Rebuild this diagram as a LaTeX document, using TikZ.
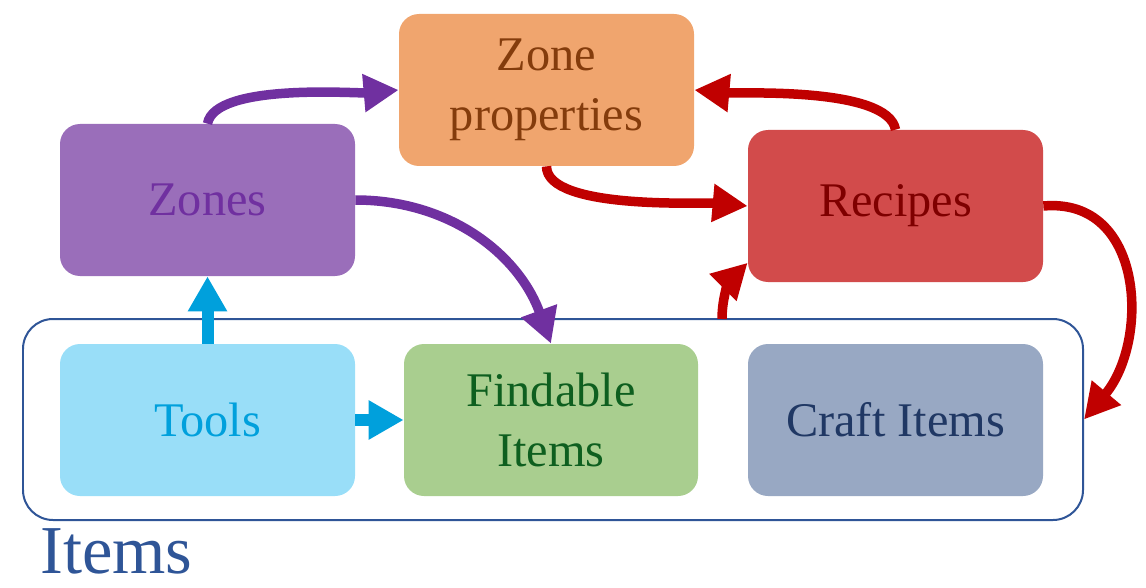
\documentclass[tikz,border=0pt]{standalone}
\usepackage{fontspec}
\setmainfont{Liberation Serif}
\usetikzlibrary{arrows.meta}

\definecolor{zpfill}{HTML}{F0A56E}
\definecolor{zptext}{HTML}{843C0C}
\definecolor{zofill}{HTML}{9A6EBA}
\definecolor{zotext}{HTML}{7030A0}
\definecolor{refill}{HTML}{D24B4B}
\definecolor{retext}{HTML}{7F0000}
\definecolor{tofill}{HTML}{99DEF8}
\definecolor{totext}{HTML}{00A0DC}
\definecolor{fifill}{HTML}{A9CE8F}
\definecolor{fitext}{HTML}{0E5F1F}
\definecolor{crfill}{HTML}{98A8C3}
\definecolor{crtext}{HTML}{203864}
\definecolor{itline}{HTML}{2F5597}
\definecolor{redarr}{HTML}{C00000}

\begin{document}
\begin{tikzpicture}[
	box/.style={rectangle, rounded corners=0.4cm, minimum width=5.9cm, minimum height=3.04cm,
		inner sep=0pt, align=center, font=\fontsize{27.5}{34}\selectfont},
	arr/.style={line width=0.19cm, -{Triangle[length=0.7cm,width=0.72cm]}},
	cyanarr/.style={draw=totext, line width=0.24cm, -{Triangle[length=0.7cm,width=0.74cm]}}
	]
	\useasboundingbox (0,0) rectangle (22.92,11.74);
	
	\node [draw=itline, line width=0.04cm, rounded corners=0.6cm, minimum width=21.2cm, minimum height=4.02cm] (items) at (11.06,3.35) {};
	\node [anchor=base west, text=itline, font=\fontsize{39}{42}\selectfont, inner sep=0pt, text depth=0pt] (itemslabel) at (0.8,0.28) {Items};
	
	\node [box, fill=zpfill, text=zptext] (zprop) at (10.93,9.94) {Zone\\properties};
	\node [box, fill=zofill, text=zotext] (zones) at (4.15,7.74) {Zones};
	\node [box, fill=refill, text=retext] (recipes) at (17.91,7.62) {Recipes};
	
	\node [box, fill=tofill, text=totext] (tools) at (4.15,3.34) {Tools};
	\node [box, fill=fifill, text=fitext, minimum width=5.88cm] (findable) at (11.02,3.34) {Findable\\Items};
	\node [box, fill=crfill, text=crtext] (craft) at (17.91,3.34) {Craft Items};
	
	\coordinate (rstart) at (14.44,5.36);
	
	\draw [arr, zotext] (zones.north) to[out=80,in=185,looseness=0.55] (zprop.west);
	\draw [arr, zotext] (zones.east) to[out=0,in=110] (findable.north);
	
	\draw [arr, redarr] (recipes.north) to[out=100,in=-5,looseness=0.55] (zprop.east);
	\draw [arr, redarr] (zprop.south) to[out=-90,in=175,looseness=0.55] (recipes.west);
	\draw [arr, redarr] (recipes.east) to[out=5,in=50,looseness=1.2] (items.east);
	\draw [arr, redarr] (rstart) to[out=90,in=225] (recipes.201);
	
	\draw [cyanarr] (tools.north) -- (zones.south);
	\draw [cyanarr] (tools.east) -- (findable.west);
	
\end{tikzpicture}
\end{document}
